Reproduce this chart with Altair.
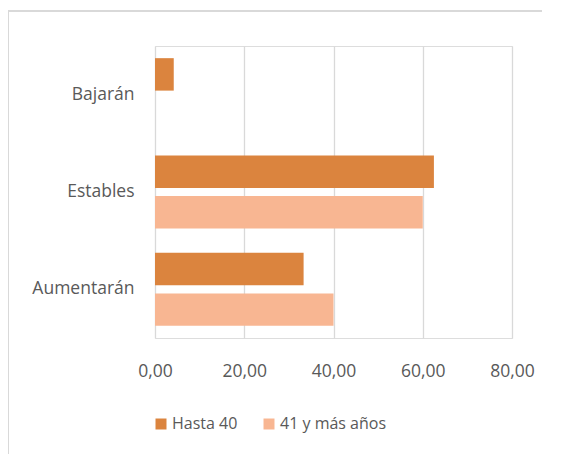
import altair as alt
import pandas as pd

categories = ["Bajarán", "Estables", "Aumentarán"]
series = ["Hasta 40", "41 y más años"]
hasta_40 = [4.2, 62.5, 33.3]
mas_41 = [0.0, 60.0, 40.0]
x_ticks = [0, 20, 40, 60, 80]
colors = ["#DB843E", "#F8B692"]

rows = []
for i, c in enumerate(categories):
    rows.append({"cat": c, "serie": series[0], "valor": hasta_40[i]})
    rows.append({"cat": c, "serie": series[1], "valor": mas_41[i]})
df = pd.DataFrame(rows)

W, H = 357, 292
FONT = "Open Sans"
TXT = "#595959"

bars = alt.Chart(df).mark_bar().encode(
    y=alt.Y("cat:N", sort=categories, title=None,
            scale=alt.Scale(paddingInner=0.25, paddingOuter=0.125),
            axis=alt.Axis(domain=False, ticks=False, labelPadding=21,
                          labelFont=FONT, labelFontSize=17.5, labelColor=TXT)),
    yOffset=alt.YOffset("serie:N", sort=series,
                        scale=alt.Scale(paddingInner=0.2, paddingOuter=0)),
    x=alt.X("valor:Q", title=None,
            scale=alt.Scale(domain=[0, 80], nice=False),
            axis=alt.Axis(values=x_ticks, domain=False, ticks=False,
                          gridColor="#D9D9D9", gridWidth=1.3,
                          labelFlush=False, labelPadding=33,
                          labelFont=FONT, labelFontSize=17.5,
                          labelColor=TXT, labelBaseline="middle",
                          labelExpr="replace(format(datum.value, '.2f'), '.', ',')")),
    color=alt.Color("serie:N", sort=series,
                    scale=alt.Scale(domain=series, range=colors),
                    legend=alt.Legend(title=None, orient="none", direction="horizontal",
                                      legendX=-2, legendY=370,
                                      symbolType="square", symbolSize=121,
                                      symbolStrokeWidth=0, labelOffset=3,
                                      columnPadding=23,
                                      labelFont=FONT, labelFontSize=16,
                                      labelColor=TXT)),
)

frame = alt.Chart(pd.DataFrame({"a": [0]})).mark_rect(
    fill=None, stroke="#D9D9D9", strokeWidth=2
).encode(
    x=alt.value(-147), x2=alt.value(W + 120),
    y=alt.value(-35), y2=alt.value(H + 200),
)

chart = alt.layer(frame, bars).properties(
    width=W, height=H,
    autosize=alt.AutoSizeParams(type="none"),
    padding={"left": 147, "top": 38, "right": 30, "bottom": 116},
).configure_view(stroke=None).configure(background="white")

chart.save("out.html", embed_options={"renderer": "svg", "actions": False})
